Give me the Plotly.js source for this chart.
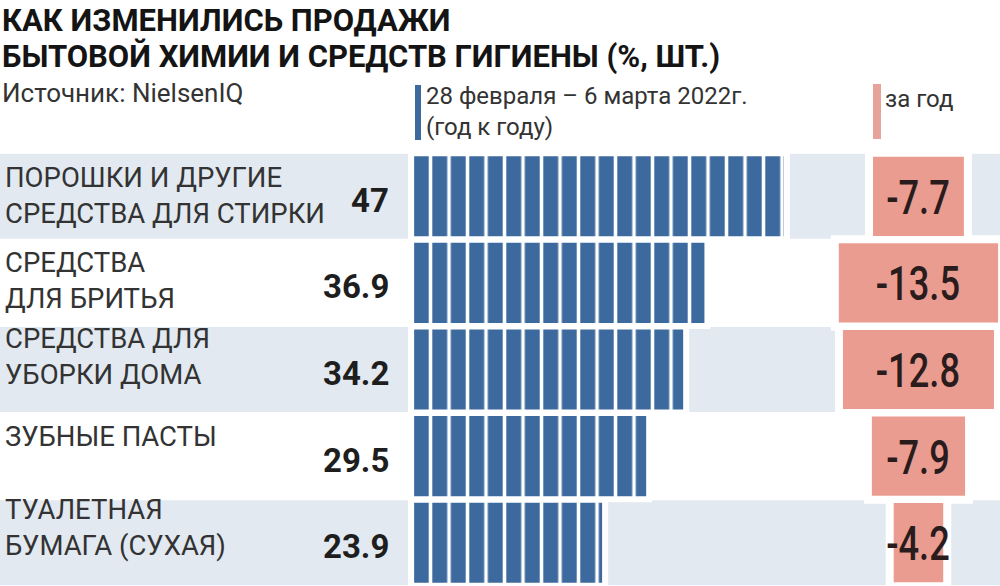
<!DOCTYPE html>
<html><head><meta charset="utf-8">
<script src="https://cdn.plot.ly/plotly-3.0.1.min.js"></script>
<style>html,body{margin:0;padding:0;background:#fff;} #chart{width:1000px;height:586px;}</style>
</head><body><div id="chart"></div>
<script>
// ---- data ----
const categories = [
  "ПОРОШКИ И ДРУГИЕ<br>СРЕДСТВА ДЛЯ СТИРКИ",
  "СРЕДСТВА<br>ДЛЯ БРИТЬЯ",
  "СРЕДСТВА ДЛЯ<br>УБОРКИ ДОМА",
  "ЗУБНЫЕ ПАСТЫ",
  "ТУАЛЕТНАЯ<br>БУМАГА (СУХАЯ)"
];
const weekChange = [47, 36.9, 34.2, 29.5, 23.9];   // 28 февраля – 6 марта 2022 г., год к году, %
const yearChange = [-7.7, -13.5, -12.8, -7.9, -4.2]; // за год, %
const titleLines = ["КАК ИЗМЕНИЛИСЬ ПРОДАЖИ", "БЫТОВОЙ ХИМИИ И СРЕДСТВ ГИГИЕНЫ (%, ШТ.)"];
const sourceText = "Источник: NielsenIQ";
const legendWeek = "28 февраля – 6 марта 2022г.<br>(год к году)";
const legendYear = "за год";

// ---- style ----
const BLUE = '#3d6a9e', RED = '#eb9c90', RED_LEG = '#e8a29c', BAND = '#e2e9f1', INK = '#1e1e1e';
const labelShift = [1, 2, 13, 20, 15];
const H = 586, T = 153;
const py = p => (H - p) / (H - T); // pixel row -> paper y

const yearMag = yearChange.map(v => Math.abs(v));
const yearBase = yearMag.map(v => -v / 2);

const traces = [
  {type:'bar', orientation:'h', y:categories, x:weekChange, xaxis:'x', yaxis:'y', width:0.925,
   marker:{color:'#ffffff', line:{color:'#ffffff', width:12}}, hoverinfo:'skip'},
  {type:'bar', orientation:'h', y:categories, x:weekChange, xaxis:'x', yaxis:'y', width:0.925,
   marker:{color:BLUE, line:{width:0},
     pattern:{shape:'|', fgcolor:'#ffffff', bgcolor:BLUE, size:18.5, solidity:0.19, fillmode:'replace'}}},
  {type:'bar', orientation:'h', y:categories, x:yearMag, base:yearBase, xaxis:'x2', yaxis:'y', width:0.915,
   marker:{color:'#ffffff', line:{color:'#ffffff', width:16}}, hoverinfo:'skip'},
  {type:'bar', orientation:'h', y:categories, x:yearMag, base:yearBase, xaxis:'x2', yaxis:'y', width:0.915,
   marker:{color:RED, line:{width:0}}}
];

const shapes = [];
categories.forEach((c, i) => {
  if (i % 2 === 0) shapes.push({type:'rect', xref:'paper', yref:'y', x0:0, x1:1, y0:i - 0.49, y1:i + 0.49,
    fillcolor:BAND, line:{width:0}, layer:'below'});
});
shapes.push({type:'rect', xref:'paper', yref:'paper', x0:0.415, x1:0.421, y0:py(140), y1:py(85), fillcolor:BLUE, line:{width:0}});
shapes.push({type:'rect', xref:'paper', yref:'paper', x0:0.873, x1:0.881, y0:py(139), y1:py(84), fillcolor:RED_LEG, line:{width:0}});

const annotations = [];
categories.forEach((c, i) => {
  annotations.push({xref:'paper', yref:'y', x:0.003, y:c, xanchor:'left', yanchor:'middle', align:'left',
    text:c, showarrow:false, yshift:labelShift[i], font:{family:'Roboto', size:27.5, color:'#333333'}});
  annotations.push({xref:'paper', yref:'y', x:0.391, y:c, xanchor:'right', yanchor:'middle',
    text:String(weekChange[i]), showarrow:false, yshift:-4, font:{family:'Roboto', size:33, weight:700, color:INK}});
});
const yearAnnStart = annotations.length;
categories.forEach((c, i) => {
  annotations.push({xref:'x2', yref:'y', x:0, y:c, xanchor:'center', yanchor:'middle',
    text:String(yearChange[i]), showarrow:false, yshift:-1,
    font:{family:'Roboto', size:49, weight:500, color:'#2a1c1c'}});
});
titleLines.forEach((t, k) => {
  annotations.push({xref:'paper', yref:'paper', x:0, y:py(k * 36), xanchor:'left', yanchor:'top', align:'left',
    text:t, showarrow:false, font:{family:'Roboto', size:31, weight:700, color:'#141414'}});
});
annotations.push({xref:'paper', yref:'paper', x:0, y:py(93), xanchor:'left', yanchor:'middle', align:'left',
  text:sourceText, showarrow:false, font:{family:'Roboto', size:26, color:'#333333'}});
annotations.push({xref:'paper', yref:'paper', x:0.424, y:py(112), xanchor:'left', yanchor:'middle', align:'left',
  text:legendWeek, showarrow:false, font:{family:'Roboto', size:24, color:'#333333'}});
annotations.push({xref:'paper', yref:'paper', x:0.883, y:py(99), xanchor:'left', yanchor:'middle', align:'left',
  text:legendYear, showarrow:false, font:{family:'Roboto', size:24, color:'#333333'}});

const layout = {
  width:1000, height:586, margin:{l:0, r:0, t:T, b:0},
  paper_bgcolor:'#ffffff', plot_bgcolor:'rgba(0,0,0,0)',
  barmode:'overlay', showlegend:false,
  xaxis:{domain:[0.40275, 0.866], range:[-1.43, 57.43], visible:false, fixedrange:true},
  xaxis2:{domain:[0.8, 1], range:[-10.04, 6.91], anchor:'y', visible:false, fixedrange:true},
  yaxis:{type:'category', categoryorder:'array', categoryarray:categories, range:[4.5, -0.5], visible:false, fixedrange:true},
  shapes:shapes, annotations:annotations
};

Plotly.newPlot('chart', traces, layout, {displayModeBar:false, staticPlot:true}).then(gd => {
  // condensed numerals in the yearly bars
  for (let k = 0; k < yearChange.length; k++) {
    const t = gd.querySelector('g.annotation[data-index="' + (yearAnnStart + k) + '"] text.annotation-text');
    if (t) {
      t.style.transformBox = 'fill-box';
      t.style.transformOrigin = 'center';
      t.style.transform = 'scaleX(0.74)';
    }
  }
});
</script>
</body></html>
